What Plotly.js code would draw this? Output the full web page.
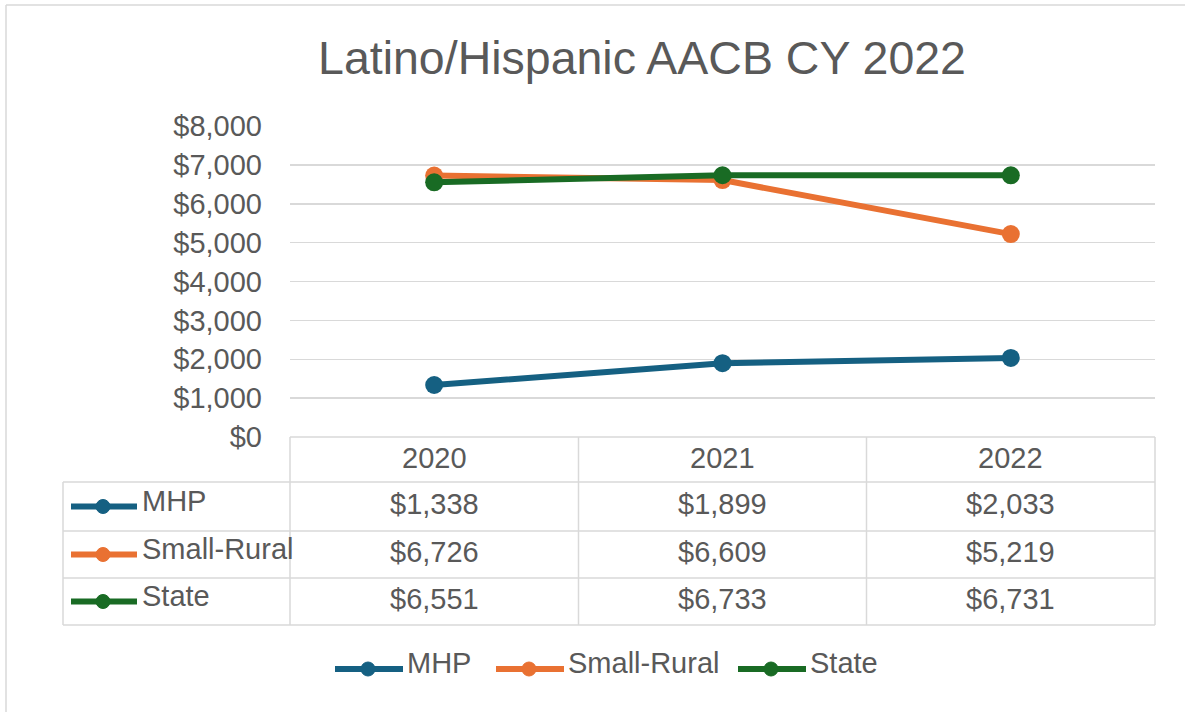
<!DOCTYPE html>
<html>
<head>
<meta charset="utf-8">
<script src="https://cdn.plot.ly/plotly-3.0.1.min.js"></script>
<style>
  html, body { margin: 0; padding: 0; background: #ffffff; }
  #chart { width: 1185px; height: 712px; }
</style>
</head>
<body>
<div id="chart"></div>
<script>
// ---- data ----
const years = ['2020', '2021', '2022'];
const seriesNames = ['MHP', 'Small-Rural', 'State'];
const mhp = [1338, 1899, 2033];
const smallRural = [6726, 6609, 5219];
const state = [6551, 6733, 6731];
const seriesColors = ['#156082', '#E97132', '#196B24'];
const yTickVals = [0, 1000, 2000, 3000, 4000, 5000, 6000, 7000, 8000];

// ---- geometry (pixels) ----
const W = 1185, H = 712;
const L = 290, R = 1155, T = 126, B = 437;
const px = p => (p - L) / (R - L);
const py = p => (B - p) / (B - T);
const textColor = '#595959';
const gridColor = '#d9d9d9';
const fontFam = '"Liberation Sans", Arial, Helvetica, sans-serif';
const fs = 29;

const allSeries = [mhp, smallRural, state];
const fmt = v => '$' + v.toLocaleString('en-US');

const traces = allSeries.map((vals, i) => ({
  type: 'scatter',
  mode: 'lines+markers',
  x: years,
  y: vals,
  name: seriesNames[i],
  line: { color: seriesColors[i], width: 6 },
  marker: { color: seriesColors[i], size: 18 },
  showlegend: false,
  hoverinfo: 'x+y+name'
}));

const shapes = [];
const annotations = [];
const gline = (x0, y0, x1, y1) => shapes.push({
  type: 'line', xref: 'paper', yref: 'paper',
  x0: px(x0), y0: py(y0), x1: px(x1), y1: py(y1),
  line: { color: gridColor, width: 1.5 }, layer: 'below'
});

// outer chart border (left & top visible)
gline(6, 5, 6, 712);
gline(6, 5, 1185, 5);

// table grid
const colEdges = [290, 578.5, 866.5, 1155];
const rowEdges = [437, 482, 531, 578, 625];
gline(290, 437, 1155, 437);
for (let r = 1; r < rowEdges.length; r++) gline(63, rowEdges[r], 1155, rowEdges[r]);
gline(63, 482, 63, 625);
colEdges.forEach(x => gline(x, 437, x, 625));
const colCenter = j => (colEdges[j] + colEdges[j + 1]) / 2;

// header years
years.forEach((yr, j) => annotations.push({
  xref: 'paper', yref: 'paper', x: px(colCenter(j)), y: py(458),
  text: yr, showarrow: false, xanchor: 'center', yanchor: 'middle',
  font: { family: fontFam, size: fs, color: textColor }
}));

// table rows
allSeries.forEach((vals, i) => {
  const yc = (rowEdges[i + 1] + rowEdges[i + 2]) / 2;
  shapes.push({ type: 'line', xref: 'paper', yref: 'paper',
    x0: px(71), x1: px(137), y0: py(yc), y1: py(yc),
    line: { color: seriesColors[i], width: 6 } });
  shapes.push({ type: 'circle', xref: 'paper', yref: 'paper',
    x0: px(96), x1: px(110), y0: py(yc + 7), y1: py(yc - 7),
    fillcolor: seriesColors[i], line: { color: seriesColors[i], width: 1 } });
  annotations.push({
    xref: 'paper', yref: 'paper', x: px(140), y: py(yc - 6),
    text: seriesNames[i], showarrow: false, xanchor: 'left', yanchor: 'middle',
    font: { family: fontFam, size: fs, color: textColor }
  });
  vals.forEach((v, j) => annotations.push({
    xref: 'paper', yref: 'paper', x: px(colCenter(j)), y: py(yc - 3),
    text: fmt(v), showarrow: false, xanchor: 'center', yanchor: 'middle',
    font: { family: fontFam, size: fs, color: textColor }
  }));
});

// bottom legend
const legendStarts = [334, 495, 737];
seriesNames.forEach((name, i) => {
  const x0 = legendStarts[i];
  const yc = 669;
  shapes.push({ type: 'line', xref: 'paper', yref: 'paper',
    x0: px(x0 + 1), x1: px(x0 + 69), y0: py(yc), y1: py(yc),
    line: { color: seriesColors[i], width: 6 } });
  shapes.push({ type: 'circle', xref: 'paper', yref: 'paper',
    x0: px(x0 + 27), x1: px(x0 + 41), y0: py(yc + 7), y1: py(yc - 7),
    fillcolor: seriesColors[i], line: { color: seriesColors[i], width: 1 } });
  annotations.push({
    xref: 'paper', yref: 'paper', x: px(x0 + 71), y: py(yc - 6),
    text: name, showarrow: false, xanchor: 'left', yanchor: 'middle',
    font: { family: fontFam, size: fs, color: textColor }
  });
});

const layout = {
  width: W, height: H,
  margin: { l: L, r: W - R, t: T, b: H - B, pad: 0 },
  paper_bgcolor: '#ffffff',
  plot_bgcolor: '#ffffff',
  title: {
    text: 'Latino/Hispanic AACB CY 2022',
    font: { family: fontFam, size: 46.5, color: textColor },
    x: 642 / W, xanchor: 'center', xref: 'container',
    y: 1 - 58 / H, yanchor: 'middle', yref: 'container'
  },
  xaxis: {
    type: 'category',
    range: [-0.5, 2.5],
    showticklabels: false,
    showgrid: false,
    zeroline: false,
    showline: false,
    ticks: ''
  },
  yaxis: {
    range: [0, 8000],
    tickmode: 'array',
    tickvals: yTickVals,
    ticktext: yTickVals.map(fmt),
    showgrid: true,
    gridcolor: gridColor,
    gridwidth: 1.5,
    zeroline: false,
    showline: false,
    ticks: '',
    ticklabelstandoff: 27,
    tickfont: { family: fontFam, size: fs, color: textColor }
  },
  shapes: shapes,
  annotations: annotations,
  showlegend: false
};

Plotly.newPlot('chart', traces, layout, { displayModeBar: false, staticPlot: true });
</script>
</body>
</html>
